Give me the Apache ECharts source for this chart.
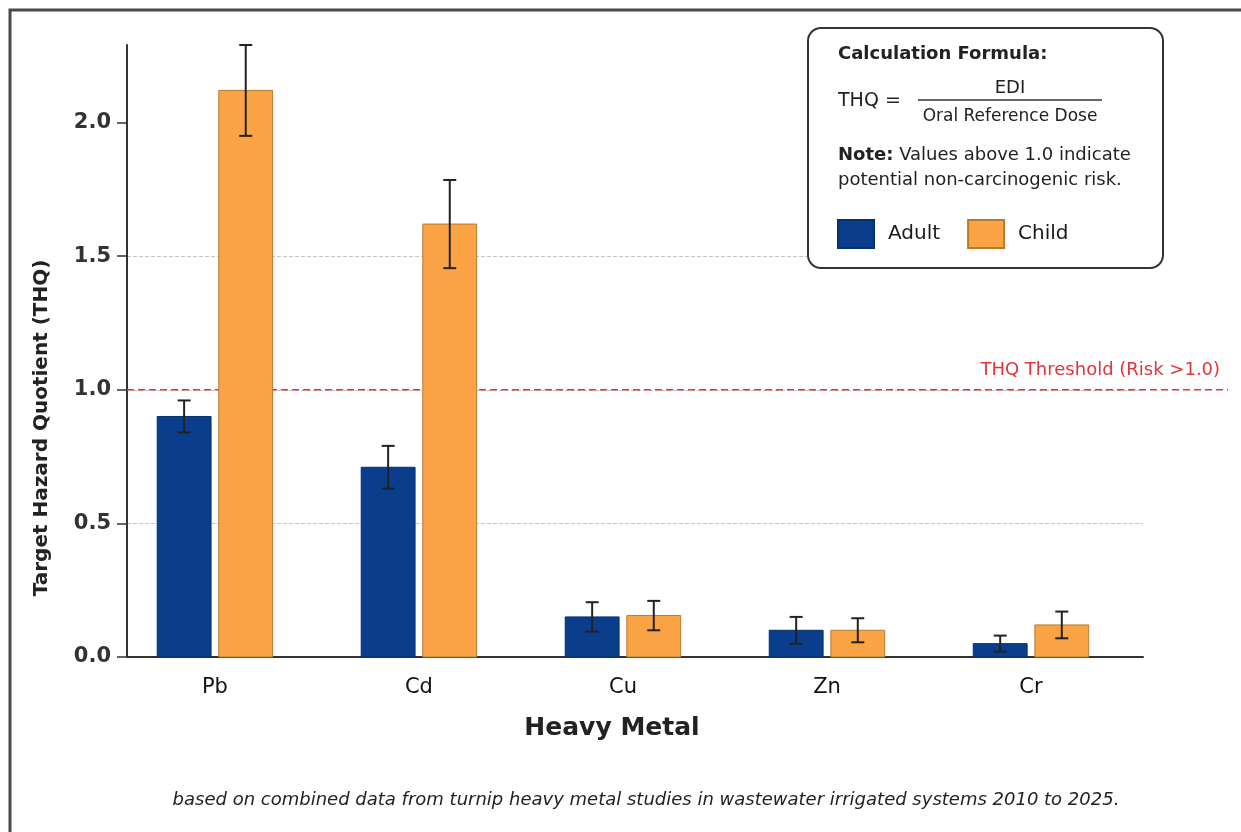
<!DOCTYPE html>
<html>
<head>
<meta charset="utf-8">
<script src="https://cdn.jsdelivr.net/npm/echarts@6/dist/echarts.min.js"></script>
<style>
  html, body { margin: 0; padding: 0; background: #fff; }
  #chart { width: 1241px; height: 832px; }
</style>
</head>
<body>
<div id="chart"></div>
<script>
  // data
  const metals = ['Pb', 'Cd', 'Cu', 'Zn', 'Cr'];
  const adultThq = [0.90, 0.71, 0.15, 0.10, 0.05];
  const adultErr = [0.06, 0.08, 0.055, 0.05, 0.03];
  const childThq = [2.12, 1.62, 0.155, 0.10, 0.12];
  const childErr = [0.17, 0.165, 0.055, 0.045, 0.05];
  const yTicks = [0, 0.5, 1.0, 1.5, 2.0];
  const threshold = 1.0;

  const FONT = '"DejaVu Sans", sans-serif';
  const blue = '#0a3d8c', blueEdge = '#06306e';
  const orange = '#fba446', orangeEdge = '#b97a2e';
  const xMin = -0.431, xMax = 4.549;
  const barW = 0.264, barOff = 0.151;

  function barItem(offset, fill, edge) {
    return function (params, api) {
      const x = api.value(0) + offset;
      const p0 = api.coord([x - barW / 2, api.value(1)]);
      const p1 = api.coord([x + barW / 2, 0]);
      return {
        type: 'rect',
        shape: { x: p0[0], y: p0[1], width: p1[0] - p0[0], height: p1[1] - p0[1] },
        style: { fill: fill, stroke: edge, lineWidth: 1 }
      };
    };
  }

  function errItem(offset) {
    return function (params, api) {
      const x = api.value(0) + offset;
      const lo = api.coord([x, api.value(1)]);
      const hi = api.coord([x, api.value(2)]);
      const cap = 6.5;
      const st = { stroke: '#222', lineWidth: 2 };
      return {
        type: 'group',
        children: [
          { type: 'line', shape: { x1: lo[0], y1: lo[1], x2: hi[0], y2: hi[1] }, style: st },
          { type: 'line', shape: { x1: hi[0] - cap, y1: hi[1], x2: hi[0] + cap, y2: hi[1] }, style: st },
          { type: 'line', shape: { x1: lo[0] - cap, y1: lo[1], x2: lo[0] + cap, y2: lo[1] }, style: st }
        ]
      };
    };
  }

  const adultData = metals.map((m, i) => [i, adultThq[i]]);
  const childData = metals.map((m, i) => [i, childThq[i]]);
  const adultErrData = metals.map((m, i) => [i, adultThq[i] - adultErr[i], adultThq[i] + adultErr[i]]);
  const childErrData = metals.map((m, i) => [i, childThq[i] - childErr[i], childThq[i] + childErr[i]]);

  const chart = echarts.init(document.getElementById('chart'));
  const option = {
    backgroundColor: '#fff',
    animation: false,
    textStyle: { fontFamily: FONT },
    grid: { left: 127, right: 98, top: 45, bottom: 175 },
    legend: {
      data: ['Adult', 'Child'],
      left: 837,
      top: 219,
      padding: 0,
      icon: 'rect',
      itemWidth: 36,
      itemHeight: 28,
      itemGap: 27,
      z: 20,
      textStyle: { fontSize: 20, color: '#1a1a1a', fontFamily: FONT, padding: [0, 0, 0, 9] }
    },
    xAxis: {
      type: 'value',
      min: xMin,
      max: xMax,
      axisLine: { show: true, onZero: false, lineStyle: { color: '#333', width: 2 } },
      axisTick: { show: false },
      splitLine: { show: false },
      axisLabel: {
        customValues: metals.map((m, i) => i),
        formatter: v => metals[Math.round(v)],
        fontSize: 21,
        color: '#111',
        margin: 20,
        fontFamily: FONT
      }
    },
    yAxis: {
      type: 'value',
      min: 0,
      max: 2.29,
      interval: 0.5,
      axisLine: { show: true, onZero: false, lineStyle: { color: '#333', width: 2 } },
      axisTick: { show: true, length: 10, customValues: yTicks, lineStyle: { color: '#333', width: 1.5 } },
      axisLabel: {
        customValues: yTicks,
        formatter: v => v.toFixed(1),
        fontSize: 21,
        fontWeight: 'bold',
        color: '#333',
        margin: 16,
        fontFamily: FONT
      },
      splitLine: {
        show: true,
        showMinLine: false,
        showMaxLine: false,
        lineStyle: { color: '#c4c4c4', type: 'dashed', width: 1 }
      }
    },
    graphic: [
      // outer frame
      { type: 'rect', z: 1, shape: { x: 10, y: 10, width: 1260, height: 860 },
        style: { fill: 'none', stroke: '#4a4a4a', lineWidth: 3 } },
      // formula box
      { type: 'rect', z: 10, shape: { x: 808, y: 28, width: 355, height: 240, r: 13 },
        style: { fill: '#fff', stroke: '#333', lineWidth: 2 } },
      { type: 'text', z: 11, x: 838, y: 54,
        style: { text: 'Calculation Formula:', font: 'bold 18px ' + FONT, fill: '#222', textVerticalAlign: 'middle' } },
      { type: 'text', z: 11, x: 838, y: 101,
        style: { text: 'THQ =', font: '19px ' + FONT, fill: '#222', textVerticalAlign: 'middle' } },
      { type: 'text', z: 11, x: 1010, y: 88,
        style: { text: 'EDI', font: '18px ' + FONT, fill: '#222', textAlign: 'center', textVerticalAlign: 'middle' } },
      { type: 'line', z: 11, shape: { x1: 918, y1: 100, x2: 1102, y2: 100 },
        style: { stroke: '#333', lineWidth: 1.5 } },
      { type: 'text', z: 11, x: 1010, y: 117,
        style: { text: 'Oral Reference Dose', font: '17px ' + FONT, fill: '#222', textAlign: 'center', textVerticalAlign: 'middle' } },
      { type: 'text', z: 11, x: 838, y: 155,
        style: { text: '{b|Note:} Values above 1.0 indicate', font: '18px ' + FONT, fill: '#222', textVerticalAlign: 'middle',
          rich: { b: { fontWeight: 'bold', fontSize: 18, fontFamily: FONT, fill: '#222' } } } },
      { type: 'text', z: 11, x: 838, y: 180,
        style: { text: 'potential non-carcinogenic risk.', font: '18px ' + FONT, fill: '#222', textVerticalAlign: 'middle' } },
      // axis titles
      { type: 'text', z: 5, x: 42, y: 428, rotation: Math.PI / 2,
        style: { text: 'Target Hazard Quotient (THQ)', font: 'bold 20px ' + FONT, fill: '#222', textAlign: 'center', textVerticalAlign: 'middle' } },
      { type: 'text', z: 5, x: 612, y: 728,
        style: { text: 'Heavy Metal', font: 'bold 25px ' + FONT, fill: '#222', textAlign: 'center', textVerticalAlign: 'middle' } },
      // footnote
      { type: 'text', z: 5, x: 646, y: 800,
        style: { text: 'based on combined data from turnip heavy metal studies in wastewater irrigated systems 2010 to 2025.',
          font: 'italic 18px ' + FONT, fill: '#222', textAlign: 'center', textVerticalAlign: 'middle' } }
    ],
    series: [
      {
        name: 'Threshold',
        type: 'custom',
        clip: false,
        z: 3,
        data: [[threshold]],
        renderItem: function (params, api) {
          const a = api.coord([xMin, api.value(0)]);
          const b = api.coord([4.966, api.value(0)]);
          return {
            type: 'group',
            children: [
              { type: 'line', shape: { x1: a[0], y1: a[1], x2: b[0], y2: b[1] },
                style: { stroke: '#e3343c', lineWidth: 1.6, lineDash: [7, 4] } },
              { type: 'text', x: b[0] - 8, y: b[1] - 19,
                style: { text: 'THQ Threshold (Risk >1.0)', font: '18px ' + FONT, fill: '#e3343c',
                  textAlign: 'right', textVerticalAlign: 'middle' } }
            ]
          };
        }
      },
      {
        name: 'Adult', type: 'custom', z: 4, data: adultData,
        itemStyle: { color: blue, borderColor: blueEdge, borderWidth: 1 },
        renderItem: barItem(-barOff, blue, blueEdge)
      },
      {
        name: 'Child', type: 'custom', z: 4, data: childData,
        itemStyle: { color: orange, borderColor: orangeEdge, borderWidth: 1 },
        renderItem: barItem(barOff, orange, orangeEdge)
      },
      { name: 'AdultErr', type: 'custom', z: 5, data: adultErrData, renderItem: errItem(-barOff) },
      { name: 'ChildErr', type: 'custom', z: 5, data: childErrData, renderItem: errItem(barOff) }
    ]
  };
  chart.setOption(option);
  window.addEventListener('resize', function () { chart.resize(); });
</script>
</body>
</html>
